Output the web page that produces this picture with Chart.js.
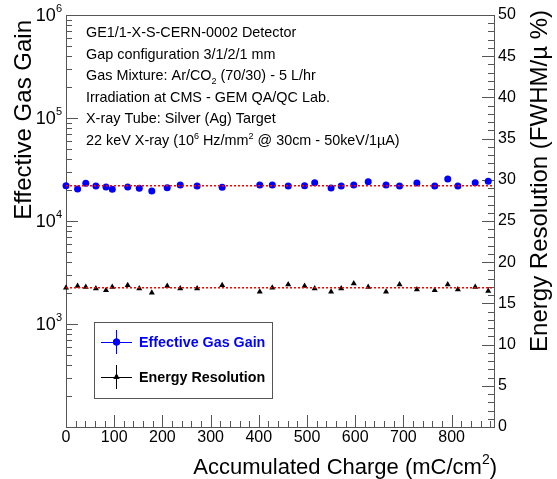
<!DOCTYPE html>
<html>
<head>
<meta charset="utf-8">
<script src="https://cdn.jsdelivr.net/npm/chart.js@4.4.1/dist/chart.umd.min.js"></script>
<style>
  html, body { margin: 0; padding: 0; background: #fff; }
  #c { display: block; }
</style>
</head>
<body>
<canvas id="c" width="557" height="479"></canvas>
<script>
// accumulated charge (mC/cm2) of each measurement
const charge = [0, 24, 41, 62, 83, 96, 128, 152, 178, 210, 237, 272, 324, 402, 428,
  461, 495, 516, 550, 571, 597, 627, 664, 692, 728, 765, 792, 813, 849, 876];
// effective gas gain
const gain = [22030, 20470, 23230, 21880, 21380, 20330, 21380, 20760, 19540, 21040,
  22390, 21880, 21230, 22390, 22390, 21880, 22030, 23550, 20890, 21880,
  22390, 24100, 22390, 21880, 23380, 21880, 25590, 21880, 23550, 24320];
// energy resolution (FWHM/mu %)
const resolution = [16.9, 17.1, 17.0, 16.8, 16.6, 17.0, 17.2, 16.8, 16.3, 17.1,
  16.8, 16.8, 17.2, 16.4, 16.9, 17.3, 17.1, 16.8, 16.4, 16.8,
  17.4, 17.0, 16.4, 17.3, 16.7, 16.6, 17.3, 16.7, 17.0, 16.5];
// constant fits
const gainFit = 22000;
const resFit = 16.9;
// tick labels
const xTicks = [0, 100, 200, 300, 400, 500, 600, 700, 800];
const gainTicks = [3, 4, 5, 6]; // powers of ten
const resTicks = [0, 5, 10, 15, 20, 25, 30, 35, 40, 45, 50];

const infoLines = [
  ['GE1/1-X-S-CERN-0002 Detector'],
  ['Gap configuration 3/1/2/1 mm'],
  ['Gas Mixture: Ar/CO', {sub: '2'}, ' (70/30) - 5 L/hr'],
  ['Irradiation at CMS - GEM QA/QC Lab.'],
  ['X-ray Tube: Silver (Ag) Target'],
  ['22 keV X-ray (10', {sup: '6'}, ' Hz/mm', {sup: '2'}, ' @ 30cm - 50keV/1\u00b5A)']
];

const FONT = '"Liberation Sans", Arial, sans-serif';
const xMin = 0, xMax = 888;

function richText(ctx, parts, x, y, size) {
  // text with small sub/superscripts, left aligned, baseline at y
  ctx.textAlign = 'left';
  ctx.textBaseline = 'alphabetic';
  for (const p of parts) {
    if (typeof p === 'string') {
      ctx.font = size + 'px ' + FONT;
      ctx.fillText(p, x, y);
      x += ctx.measureText(p).width;
    } else {
      const s = Math.round(size * 0.65);
      ctx.font = s + 'px ' + FONT;
      const t = p.sub || p.sup;
      ctx.fillText(t, x, p.sub ? y + size * 0.25 : y - size * 0.4);
      x += ctx.measureText(t).width;
    }
  }
}

const rootStyle = {
  id: 'rootStyle',
  beforeDatasetsDraw(chart) {
    const ctx = chart.ctx;
    const a = chart.chartArea;
    const sx = chart.scales.x, sy = chart.scales.y, sr = chart.scales.y1;
    ctx.save();
    ctx.strokeStyle = '#555';
    ctx.lineWidth = 1;
    ctx.strokeRect(a.left + 0.5, a.top + 0.5, a.right - a.left, a.bottom - a.top);

    ctx.beginPath();
    // x axis ticks
    for (let v = xMin; v <= xMax; v += 20) {
      const px = Math.round(sx.getPixelForValue(v)) + 0.5;
      const len = v % 100 === 0 ? 12 : 6;
      ctx.moveTo(px, a.bottom);
      ctx.lineTo(px, a.bottom - len);
    }
    // left log ticks
    for (let d = 2; d <= 6; d++) {
      for (let m = 1; m <= 9; m++) {
        const v = m * Math.pow(10, d);
        if (v > sy.max || v < sy.min) continue;
        const py = Math.round(sy.getPixelForValue(v)) + 0.5;
        const len = m === 1 ? 12 : 6;
        ctx.moveTo(a.left, py);
        ctx.lineTo(a.left + len, py);
      }
    }
    // right linear ticks
    for (let v = 0; v <= 50; v += 1) {
      const py = Math.round(sr.getPixelForValue(v)) + 0.5;
      const len = v % 5 === 0 ? 12 : 6;
      ctx.moveTo(a.right, py);
      ctx.lineTo(a.right - len, py);
    }
    ctx.stroke();
    ctx.restore();
  },
  afterDraw(chart) {
    const ctx = chart.ctx;
    const a = chart.chartArea;
    const sx = chart.scales.x, sy = chart.scales.y, sr = chart.scales.y1;
    ctx.save();
    ctx.fillStyle = '#000';

    // tick labels
    ctx.font = '16px ' + FONT;
    ctx.textAlign = 'center';
    ctx.textBaseline = 'top';
    xTicks.forEach(v => ctx.fillText(String(v), sx.getPixelForValue(v), a.bottom + 3));

    ctx.textAlign = 'left';
    ctx.textBaseline = 'middle';
    resTicks.forEach(v => ctx.fillText(String(v), a.right + 4, sr.getPixelForValue(v)));

    gainTicks.forEach(e => {
      const py = sy.getPixelForValue(Math.pow(10, e));
      ctx.font = '11px ' + FONT;
      const ew = ctx.measureText(String(e)).width;
      ctx.textAlign = 'right';
      ctx.textBaseline = 'alphabetic';
      ctx.fillText(String(e), a.left - 4, py - 3);
      ctx.font = '18px ' + FONT;
      ctx.fillText('10', a.left - 4 - ew, py + 6);
    });

    // axis titles
    ctx.font = '24px ' + FONT;
    ctx.textBaseline = 'alphabetic';
    ctx.textAlign = 'right';
    ctx.save();
    ctx.translate(31, a.top + 5);
    ctx.rotate(-Math.PI / 2);
    ctx.fillText('Effective Gas Gain', 0, 0);
    ctx.restore();

    ctx.save();
    ctx.font = '24px ' + FONT;
    ctx.translate(547, a.top - 5);
    ctx.rotate(-Math.PI / 2);
    ctx.fillText('Energy Resolution (FWHM/\u00b5 %)', 0, 0);
    ctx.restore();

    const t1 = 'Accumulated Charge (mC/cm', t2 = ')';
    ctx.font = '14px ' + FONT;
    const wsup = ctx.measureText('2').width;
    ctx.font = '22px ' + FONT;
    const w2 = ctx.measureText(t2).width;
    let xr = 497;
    ctx.fillText(t2, xr, 474);
    xr -= w2;
    ctx.font = '14px ' + FONT;
    ctx.fillText('2', xr, 464);
    xr -= wsup;
    ctx.font = '22px ' + FONT;
    ctx.fillText(t1, xr, 474);

    // info text
    infoLines.forEach((parts, i) => richText(ctx, parts, 86, 37 + i * 21.6, 14.4));

    // legend
    const lx = 94, ly = 322, lw = 178, lh = 76;
    ctx.strokeStyle = '#555';
    ctx.lineWidth = 1;
    ctx.fillStyle = '#fff';
    ctx.fillRect(lx + 0.5, ly + 0.5, lw, lh);
    ctx.strokeRect(lx + 0.5, ly + 0.5, lw, lh);
    const entries = [
      {label: 'Effective Gas Gain', color: '#0000ff', style: 'circle', y: ly + 20},
      {label: 'Energy Resolution', color: '#000000', style: 'triangle', y: ly + 55}
    ];
    entries.forEach(en => {
      ctx.strokeStyle = en.color;
      ctx.beginPath();
      ctx.moveTo(101, en.y + 0.5); ctx.lineTo(132, en.y + 0.5);
      ctx.moveTo(116.5, en.y - 12); ctx.lineTo(116.5, en.y + 12);
      ctx.stroke();
      ctx.fillStyle = en.color;
      Chart.helpers.drawPoint(ctx, {pointStyle: en.style, radius: 3.5, borderWidth: 0}, 116.5, en.y);
      ctx.fill();
      ctx.font = 'bold 14.3px ' + FONT;
      ctx.textAlign = 'left';
      ctx.textBaseline = 'middle';
      ctx.fillText(en.label, 139, en.y + 1);
    });
    ctx.restore();
  }
};

const pts = (xs, ys) => xs.map((x, i) => ({x: x, y: ys[i]}));

new Chart(document.getElementById('c').getContext('2d'), {
  type: 'scatter',
  data: {
    datasets: [
      {
        label: 'Gain fit',
        type: 'line',
        data: [{x: xMin, y: gainFit}, {x: xMax, y: gainFit}],
        yAxisID: 'y',
        borderColor: '#ff0000',
        borderWidth: 1.5,
        borderDash: [2, 2],
        pointRadius: 0
      },
      {
        label: 'Resolution fit',
        type: 'line',
        data: [{x: xMin, y: resFit}, {x: xMax, y: resFit}],
        yAxisID: 'y1',
        borderColor: '#ff0000',
        borderWidth: 1.5,
        borderDash: [2, 2],
        pointRadius: 0
      },
      {
        label: 'Effective Gas Gain',
        data: pts(charge, gain),
        yAxisID: 'y',
        pointStyle: 'circle',
        pointRadius: 3.5,
        pointBorderWidth: 0,
        backgroundColor: '#0000ff',
        borderColor: '#0000ff',
        clip: false
      },
      {
        label: 'Energy Resolution',
        data: pts(charge, resolution),
        yAxisID: 'y1',
        pointStyle: 'triangle',
        pointRadius: 3.5,
        pointBorderWidth: 0,
        backgroundColor: '#000000',
        borderColor: '#000000',
        clip: false
      }
    ]
  },
  options: {
    responsive: false,
    animation: false,
    devicePixelRatio: 1,
    layout: { padding: { top: 15, left: 0, right: 0, bottom: 0 } },
    plugins: { legend: { display: false }, tooltip: { enabled: false } },
    scales: {
      x: {
        type: 'linear', min: xMin, max: xMax,
        grid: { display: false }, border: { display: false },
        ticks: { display: false },
        afterFit: s => { s.height = 52; }
      },
      y: {
        type: 'logarithmic', position: 'left', min: 100, max: 1e6,
        grid: { display: false }, border: { display: false },
        ticks: { display: false },
        afterFit: s => { s.width = 66; }
      },
      y1: {
        type: 'linear', position: 'right', min: 0, max: 50,
        grid: { display: false }, border: { display: false },
        ticks: { display: false },
        afterFit: s => { s.width = 63; }
      }
    }
  },
  plugins: [rootStyle]
});
</script>
</body>
</html>
